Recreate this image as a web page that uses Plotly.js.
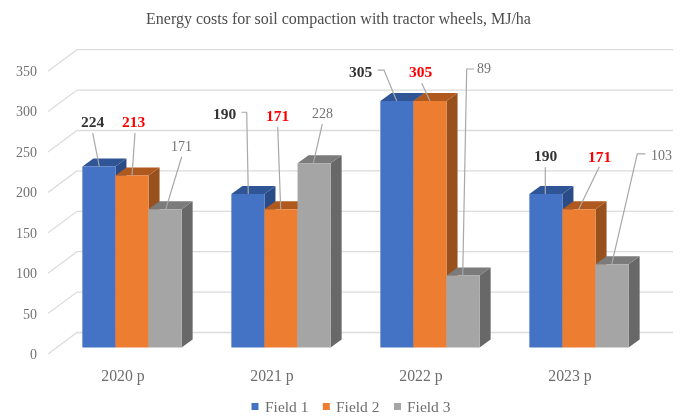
<!DOCTYPE html>
<html>
<head>
<meta charset="utf-8">
<script src="https://cdn.plot.ly/plotly-3.0.1.min.js"></script>
<style>
html,body{margin:0;padding:0;background:#fff;overflow:hidden}
#chart{width:681px;height:416px;filter:blur(0.6px)}
</style>
</head>
<body>
<div id="chart"></div>
<script>
// ---- data ----
const categories = ['2020 p', '2021 p', '2022 p', '2023 p'];
const field1 = [224, 190, 305, 190];
const field2 = [213, 171, 305, 171];
const field3 = [171, 228, 89, 103];
const seriesNames = ['Field 1', 'Field 2', 'Field 3'];
const yTicks = [0, 50, 100, 150, 200, 250, 300, 350];

// ---- styles ----
const frontColors = ['#4472c4', '#ed7d31', '#a5a5a5'];
const topColors = ['#2f5597', '#b0591f', '#7b7b7b'];
const sideColors = ['#2a4c86', '#98501c', '#686868'];
const labelColors = ['#333333', '#ff0000', '#737373'];
const labelWeights = ['bold', 'bold', 'normal'];
const serif = '"Liberation Serif", "Times New Roman", serif';

// ---- geometry of the pseudo-3D projection ----
const W = 681, H = 416, mL = 48, mR = 8, mT = 40, mB = 62;
const period = 149;                 // px between groups
const firstCentre = 132;            // px of first group centre
const barW = 33.1;                  // px
const pxPerUnit = (H - mT - mB) / 388.6;
const xRange = [(mL - firstCentre) / period, (W - mR - firstCentre) / period];
const dxU = px => px / period;      // px -> x units
const dyU = px => px / pxPerUnit;   // px -> y units
const barBase = dyU(6.5);           // bars stand a little behind the front edge of the floor
const barDepth = [11, 8];           // px
const wall = [29, 21.5];            // px
const labelShift = -9;              // px

// label offset, then leader points, in px from the top-centre of each bar (x right, y up)
const labelOffsets = [
 [[-5.9,44.8],[2.3,53.7],[16.2,62.6]],
 [[-23.2,80.3],[-3.3,93.6],[7.9,49.3]],
 [[-35.9,30],[-8.7,29.3],[21.2,206.6]],
 [[-0.2,38.7],[20,53.3],[48.9,108.6]]
];
const leaderOffsets = [
 [[[0.4,0],[-6.2,33.5]],[[0,0],[3,42.4]],[[0.6,0],[16.6,52.6]]],
 [[[0.4,0],[-1.2,81.7],[-6.6,81.7]],[[-0.3,0],[-3.3,82.6]],[[-0.8,0],[8.2,39.3]]],
 [[[-0.2,0],[-12.9,31],[-19.2,31]],[[0,0],[-8.3,17.7]],[[-0.4,0],[3.6,206.6],[10.9,206.6]]],
 [[[-0.6,0],[-0.6,26.7]],[[-0.3,0],[20.3,42.6]],[[-0.4,0],[25.2,110.3],[33.2,110.3]]]
];

const allSeries = [field1, field2, field3];
const idx = categories.map((_, i) => i);
const path = pts => 'M' + pts.map(p => p[0] + ',' + p[1]).join('L');
const shapes = [];
const annotations = [];

// gridlines on the back wall and the left wall
yTicks.forEach(v => {
  const x0 = xRange[0], x1 = x0 + dxU(wall[0]), y1 = v + dyU(wall[1]);
  shapes.push({type:'path', layer:'below', xref:'x', yref:'y',
    path: path([[x0, v],[x1, y1],[xRange[1], y1]]),
    line:{color:'#dcdcdc', width:1.3}});
});

// top and side faces of the bars, drawn behind the front faces
categories.forEach((_, g) => {
  allSeries.forEach((vals, s) => {
    const left = g + dxU(barW * (s - 1.5));
    const right = left + dxU(barW);
    const dx = dxU(barDepth[0]), dy = dyU(barDepth[1]);
    const top = barBase + vals[g];
    shapes.push({type:'path', layer:'below', xref:'x', yref:'y',
      path: path([[right, barBase],[right, top],[right+dx, top+dy],[right+dx, barBase+dy]]) + 'Z',
      fillcolor: sideColors[s], line:{width:0}});
    shapes.push({type:'path', layer:'below', xref:'x', yref:'y',
      path: path([[left, top],[right, top],[right+dx, top+dy],[left+dx, top+dy]]) + 'Z',
      fillcolor: topColors[s], line:{width:0}});
  });
});

// data labels and their leader lines
categories.forEach((_, g) => {
  allSeries.forEach((vals, s) => {
    const cx = g + dxU(barW * (s - 1));
    const top = barBase + vals[g];
    const at = o => [cx + dxU(o[0]), top + dyU(o[1])];
    const l = at(labelOffsets[g][s]);
    annotations.push({x:l[0], y:l[1], xref:'x', yref:'y', showarrow:false,
      xanchor:'center', yanchor:'middle', text: String(vals[g]),
      font:{family:serif, size: s === 2 ? 14 : 15.5, color:labelColors[s], weight:labelWeights[s]}});
    shapes.push({type:'path', layer:'above', xref:'x', yref:'y',
      path: path(leaderOffsets[g][s].map(at)),
      line:{color:'#a8a8a8', width:1.2}});
  });
});

// legend
const legendSwatchX = [251.5, 322.8, 394];
const legendY = 406.5;
const pxX = px => (px - mL) / (W - mL - mR);
const pxY = py => (H - mB - py) / (H - mT - mB);
seriesNames.forEach((n, s) => {
  const sx = legendSwatchX[s];
  shapes.push({type:'rect', xref:'paper', yref:'paper', layer:'above',
    x0:pxX(sx), x1:pxX(sx+7), y0:pxY(legendY+3.5), y1:pxY(legendY-3.5),
    fillcolor:frontColors[s], line:{width:0}});
  annotations.push({x:pxX(sx+11.5), y:pxY(legendY), xref:'paper', yref:'paper', showarrow:false,
    xanchor:'left', yanchor:'middle', text:n,
    font:{family:serif, size:15.5, color:'#6e6e6e'}});
});

const traces = allSeries.map((vals, s) => ({
  type:'bar', name:seriesNames[s], x:idx, y:vals,
  base: vals.map(() => barBase),
  marker:{color:frontColors[s], line:{width:0}},
  showlegend:false, hoverinfo:'name+y'
}));

const layout = {
  width:W, height:H,
  margin:{l:mL, r:mR, t:mT, b:mB, pad:0},
  paper_bgcolor:'#fff', plot_bgcolor:'rgba(0,0,0,0)',
  title:{text:'Energy costs for soil compaction with tractor wheels, MJ/ha',
    x:338.5/W, xanchor:'center', y:1-18/H, yanchor:'middle',
    font:{family:serif, size:16, color:'#4d4d4d'}},
  barmode:'group',
  bargap:1 - 3*barW/period, bargroupgap:0,
  showlegend:false,
  xaxis:{range:xRange, tickmode:'array',
    tickvals:idx.map(i => i + dxU(labelShift)), ticktext:categories,
    showgrid:false, zeroline:false, showline:false, ticks:'', ticklabelstandoff:10,
    tickfont:{family:serif, size:15.8, color:'#6e6e6e'}, fixedrange:true},
  yaxis:{range:[0, 388.6], tickmode:'array', tickvals:yTicks, ticktext:yTicks.map(String),
    showgrid:false, zeroline:false, showline:false, ticks:'', ticklabelstandoff:10,
    tickfont:{family:serif, size:14, color:'#737373'}, fixedrange:true},
  shapes, annotations
};
Plotly.newPlot('chart', traces, layout, {displayModeBar:false, responsive:false});
</script>
</body>
</html>
